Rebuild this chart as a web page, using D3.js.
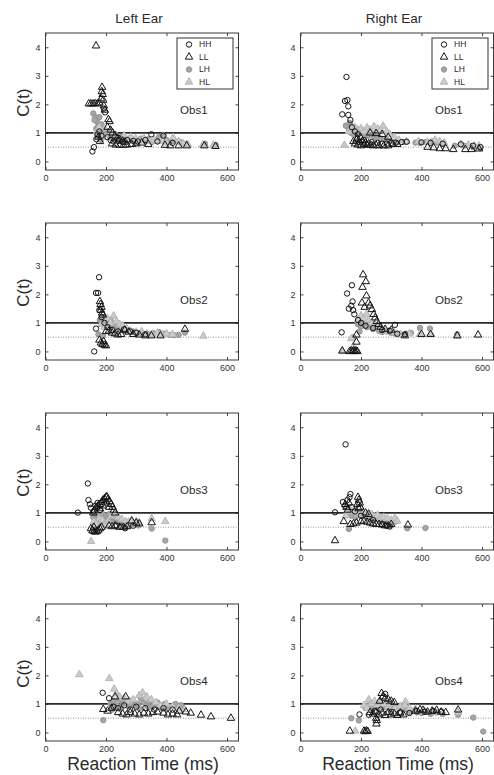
<!DOCTYPE html>
<html>
<head>
<meta charset="utf-8">
<script src="https://cdn.jsdelivr.net/npm/d3@7"></script>
<style>
  body { margin: 0; background: #fff; }
  svg text { font-family: "Liberation Sans", Arial, sans-serif; fill: #2a2a2a; }
  .tick line { stroke: #444; }
  .tick text { font-size: 9px; fill: #333; }
</style>
</head>
<body>
<svg id="chart"></svg>
<script>
// ---- data: [reaction time (ms), C(t)] ----
const X_TICKS = [0, 200, 400, 600];
const Y_TICKS = [0, 1, 2, 3, 4];
const SERIES = ['HH', 'LL', 'LH', 'HL'];
const EARS = ['Left Ear', 'Right Ear'];
const OBS = ['Obs1', 'Obs2', 'Obs3', 'Obs4'];

// Obs1, left ear
const L1_HH = [[155,0.35],[160,0.5],[168,0.78],[172,0.95],[178,1.05],[185,0.9],[197,1.72],[193,1.85],[205,0.85],[215,0.75],[225,0.7],[240,0.72],[255,0.68],[270,0.75],[290,0.72],[305,0.7],[330,0.75],[350,0.95],[370,0.7],[390,0.9],[420,0.65]];
const L1_LL = [[167,4.05],[143,2.02],[150,2.02],[157,2.02],[164,2.03],[171,2.02],[178,2.05],[184,2.2],[186,2.45],[187,2.6],[189,2.35],[191,2.15],[193,1.95],[196,1.8],[208,1.47],[212,1.4],[205,1.2],[215,1.1],[222,1.0],[230,0.9],[238,0.82],[245,0.78],[255,0.72],[262,0.68],[220,0.62],[232,0.58],[245,0.57],[258,0.57],[270,0.58],[285,0.6],[300,0.62],[318,0.65],[340,0.6],[395,0.57],[412,0.55],[440,0.55],[467,0.55],[525,0.55],[562,0.53],[180,0.7],[175,0.85]];
const L1_LH = [[158,1.68],[165,1.55],[170,1.4],[175,1.25],[168,1.15],[180,1.1],[185,1.3],[190,1.0],[198,0.95],[205,1.05],[212,0.9],[220,0.85],[230,0.95],[240,0.8],[250,0.85],[262,0.78],[275,0.8],[288,0.75],[300,0.68],[315,0.8],[328,0.72],[340,0.78],[352,0.68],[375,0.85],[389,0.92],[400,0.75],[420,0.72],[445,0.68],[465,0.62],[527,0.62],[563,0.58],[183,0.75],[172,0.9],[162,1.45],[178,1.55],[173,1.2],[188,1.15],[195,1.1]];
const L1_HL = [[170,1.05],[178,1.2],[186,0.85],[195,1.15],[205,0.95],[215,1.0],[225,0.82],[235,0.9],[248,0.75],[260,0.9],[272,0.72],[282,0.85],[298,0.8],[310,0.72],[325,0.82],[345,0.7],[360,0.75],[380,0.7],[400,0.65],[422,0.84],[440,0.7],[455,0.62],[470,0.6],[520,0.58],[555,0.57]];

// Obs1, right ear
const R1_HH = [[152,2.96],[147,2.12],[155,2.15],[158,1.93],[138,1.65],[158,1.63],[165,1.45],[170,1.2],[180,1.05],[190,0.95],[210,0.75],[235,0.68],[255,0.65],[270,0.62],[285,0.62],[300,0.65],[315,0.66],[335,0.68],[351,0.69],[400,0.67],[430,0.65],[470,0.62],[530,0.6],[570,0.55],[595,0.5]];
const R1_LL = [[175,0.7],[180,0.62],[185,0.75],[190,0.58],[195,0.68],[200,0.55],[205,0.72],[210,0.6],[215,0.65],[220,0.57],[225,0.62],[232,0.58],[240,0.55],[250,0.57],[260,0.55],[275,0.55],[290,0.55],[305,0.6],[320,0.6],[187,0.8],[198,0.85],[230,1.0],[250,0.98],[270,0.95],[290,0.85],[420,0.5],[440,0.48],[460,0.45],[480,0.45],[505,0.42],[545,0.42],[565,0.42],[590,0.44]];
const R1_LH = [[160,1.1],[168,1.0],[175,0.95],[185,1.05],[195,0.98],[205,1.0],[215,0.95],[225,0.9],[235,0.92],[245,0.85],[255,0.88],[265,0.8],[275,0.78],[285,0.75],[300,0.72],[320,0.68],[345,0.68],[380,0.66],[395,0.65],[415,0.68],[435,0.7],[450,0.66],[470,0.62],[510,0.55],[540,0.55],[570,0.5],[593,0.47],[150,1.25],[163,1.35]];
const R1_HL = [[145,0.57],[160,1.05],[170,1.15],[180,1.2],[190,1.1],[200,1.15],[210,1.05],[220,1.18],[230,1.1],[243,1.22],[255,1.15],[265,1.1],[273,1.24],[285,1.05],[295,0.95],[310,0.85],[325,0.75],[350,0.7],[390,0.7],[420,0.68],[445,0.75],[460,0.7],[475,0.65],[530,0.6],[555,0.58],[575,0.55],[590,0.55]];

// Obs2, left ear
const L2_HH = [[177,2.6],[167,2.05],[174,2.05],[167,0.8],[161,0.0],[178,1.45],[185,1.2],[195,1.0],[205,0.85],[220,0.75],[240,0.7],[260,0.78],[280,0.7],[300,0.65],[330,0.6]];
const L2_LL = [[180,1.75],[182,1.65],[185,1.55],[183,1.45],[187,1.35],[190,1.28],[178,0.4],[183,0.3],[188,0.25],[195,0.22],[200,0.2],[192,0.35],[200,0.7],[210,0.72],[220,0.65],[230,0.62],[240,0.58],[250,0.6],[262,0.75],[275,0.68],[290,0.6],[310,0.58],[330,0.55],[350,0.55],[380,0.55],[461,0.78]];
const L2_LH = [[180,1.1],[188,1.0],[195,1.2],[200,1.05],[207,0.95],[215,1.1],[222,0.9],[230,0.95],[240,0.85],[250,0.8],[262,0.72],[275,0.75],[290,0.7],[305,0.65],[320,0.62],[340,0.6],[355,0.65],[375,0.68],[392,0.62],[410,0.58],[425,0.57],[440,0.58],[461,0.66],[175,0.6],[190,0.55]];
const L2_HL = [[185,0.95],[195,0.85],[205,1.15],[215,1.0],[225,1.25],[235,1.05],[245,0.95],[255,0.9],[268,0.8],[280,0.72],[300,0.68],[318,0.7],[335,0.62],[352,0.6],[370,0.65],[385,0.6],[400,0.62],[420,0.6],[522,0.54]];

// Obs2, right ear
const R2_HH = [[170,2.32],[154,2.03],[172,1.75],[160,1.5],[174,1.45],[168,1.6],[178,1.3],[136,0.67],[312,0.93],[190,1.1],[200,1.0],[215,0.9],[240,0.82],[270,0.75],[295,0.72],[320,0.62],[345,0.6]];
const R2_LL = [[207,2.69],[216,2.45],[205,2.25],[218,1.95],[203,1.7],[225,1.7],[236,1.47],[230,1.6],[212,1.55],[242,1.3],[247,1.18],[252,1.05],[258,0.95],[265,0.85],[280,0.78],[300,0.75],[185,0.58],[185,0.33],[138,0.02],[162,0.0],[168,0.02],[172,0.0],[176,0.03],[180,0.0],[184,0.02],[188,0.0],[345,0.55],[518,0.55],[587,0.58],[400,0.6],[430,0.6]];
const R2_LH = [[190,0.95],[200,0.88],[210,1.0],[220,0.85],[230,0.95],[240,0.78],[250,0.85],[260,0.72],[270,0.68],[285,0.7],[300,0.65],[315,0.62],[330,0.6],[350,0.62],[365,0.65],[395,0.82],[428,0.8],[518,0.6],[195,0.7],[175,0.5]];
const R2_HL = [[174,0.17],[140,0.0],[190,1.1],[200,1.25],[208,1.15],[218,1.3],[225,1.1],[235,1.0],[245,0.95],[255,0.9],[265,0.8],[278,0.72],[292,0.7],[310,0.66],[330,0.6],[360,0.62],[395,0.6],[430,0.62],[520,0.55],[168,0.45]];

// Obs3, left ear
const L3_HH = [[140,2.03],[107,1.01],[142,1.45],[147,1.3],[150,1.18],[158,1.05],[165,1.25],[172,1.35],[180,1.1],[263,0.46],[250,0.52],[235,0.55],[290,0.55]];
const L3_LL = [[158,1.0],[162,1.1],[168,1.2],[174,1.25],[180,1.3],[185,1.38],[190,1.45],[195,1.5],[200,1.55],[203,1.57],[207,1.48],[212,1.4],[217,1.3],[222,1.2],[226,1.1],[230,1.0],[190,1.25],[200,1.35],[210,1.2],[180,1.15],[150,0.45],[155,0.38],[160,0.35],[165,0.33],[170,0.35],[175,0.4],[180,0.45],[185,0.5],[160,0.5],[210,0.55],[220,0.52],[230,0.55],[245,0.5],[258,0.5],[270,0.52],[285,0.72],[300,0.65],[310,0.62],[351,0.66]];
const L3_LH = [[158,0.85],[165,0.95],[170,0.75],[175,0.9],[180,0.65],[185,0.85],[190,0.95],[195,0.7],[200,0.9],[205,0.8],[210,0.95],[215,0.75],[220,0.85],[225,0.7],[232,0.8],[238,0.68],[245,0.72],[252,0.62],[260,0.65],[268,0.58],[275,0.55],[290,0.6],[307,0.56],[351,0.45],[396,0.03],[165,0.6]];
const L3_HL = [[151,0.0],[160,0.7],[168,0.6],[178,0.8],[188,0.75],[198,0.6],[208,0.7],[218,0.9],[228,0.95],[240,0.85],[252,0.78],[265,0.7],[275,0.68],[285,0.72],[300,0.7],[310,0.65],[351,0.8],[396,0.7]];

// Obs3, right ear
const R3_HH = [[149,3.4],[165,1.66],[114,1.02],[140,1.38],[147,1.25],[155,1.45],[162,1.55],[170,1.2],[180,1.05],[200,0.9],[240,0.75],[270,0.6],[285,0.55],[295,0.52]];
const R3_LL = [[114,0.03],[143,0.7],[148,1.3],[152,1.2],[156,1.1],[160,1.35],[190,1.55],[193,1.45],[196,1.35],[188,1.3],[198,1.2],[192,1.15],[165,0.6],[175,0.62],[185,0.65],[200,0.7],[210,0.72],[220,0.68],[230,0.65],[240,0.62],[250,0.6],[260,0.6],[270,0.58],[280,0.55],[290,0.55],[300,0.6],[355,0.58],[215,1.0],[225,0.95]];
const R3_LH = [[160,0.44],[353,0.46],[413,0.47],[160,1.0],[168,0.9],[175,1.05],[182,0.85],[190,0.95],[198,1.0],[205,0.88],[212,0.95],[220,0.82],[228,0.9],[238,0.8],[248,0.85],[258,0.75],[268,0.72],[278,0.7],[290,0.66],[300,0.64],[315,0.7]];
const R3_HL = [[150,0.9],[155,1.05],[162,1.15],[170,1.05],[178,1.1],[186,1.0],[195,0.95],[205,1.05],[215,0.92],[225,1.0],[235,0.95],[245,0.88],[255,0.92],[265,0.82],[275,0.85],[288,0.8],[300,0.75],[312,0.82],[320,0.72]];

// Obs4, left ear
const L4_HH = [[189,1.39],[210,1.2],[225,0.9],[240,0.85],[260,0.95],[280,0.8],[300,0.9],[330,0.85],[360,0.8],[390,0.85],[420,0.8]];
const L4_LL = [[191,0.81],[205,0.75],[218,0.85],[230,1.25],[240,0.7],[255,0.65],[268,0.62],[280,0.7],[295,0.65],[310,0.62],[325,0.68],[340,0.65],[355,0.7],[370,0.72],[390,0.68],[405,0.62],[420,0.65],[435,0.62],[442,0.75],[464,0.72],[480,0.68],[514,0.61],[547,0.55],[613,0.5],[265,1.25]];
const L4_LH = [[191,0.43],[215,1.0],[225,1.1],[235,0.95],[245,1.15],[255,1.0],[265,1.05],[275,0.9],[285,1.1],[295,0.95],[305,1.0],[315,1.2],[325,1.05],[335,0.95],[345,1.1],[355,0.92],[365,1.0],[375,0.9],[385,0.85],[395,1.0],[410,0.9],[425,0.95],[440,0.9],[455,0.85],[220,0.8],[250,0.85],[280,1.0],[310,0.85],[340,0.88],[370,1.05],[400,0.82],[430,1.0],[448,0.95]];
const L4_HL = [[112,2.03],[211,1.89],[227,1.52],[235,1.35],[245,1.25],[260,1.2],[275,1.1],[290,1.15],[310,1.3],[321,1.39],[335,1.25],[350,1.15],[365,1.05],[380,0.95],[400,1.0],[420,0.9],[440,0.85],[460,0.8]];

// Obs4, right ear
const R4_HH = [[195,0.63],[226,0.62],[280,1.35],[245,0.75],[265,0.8],[300,0.72],[330,0.7],[360,0.68],[385,0.75],[410,0.72],[440,0.75],[465,0.72]];
const R4_LL = [[163,0.05],[210,0.05],[214,0.03],[218,0.06],[222,0.04],[251,0.3],[252,0.42],[250,0.5],[268,1.37],[272,1.25],[280,1.2],[290,1.15],[300,1.1],[310,1.05],[262,1.1],[230,0.7],[240,0.65],[250,0.72],[260,0.62],[270,0.68],[280,0.6],[290,0.7],[300,0.62],[310,0.66],[320,0.6],[330,0.68],[340,0.62],[380,0.75],[395,0.8],[405,0.78],[420,0.72],[435,0.75],[450,0.78],[465,0.72],[480,0.7],[521,0.79]];
const R4_LH = [[168,0.5],[193,0.42],[571,0.52],[604,0.03],[215,0.85],[225,0.95],[235,0.8],[245,0.9],[255,0.85],[265,0.95],[280,0.88],[295,0.82],[310,0.9],[325,0.85],[340,0.8],[355,0.78],[370,0.75],[385,0.7],[400,0.68],[415,0.72],[430,0.65],[450,0.7],[470,0.65],[521,0.62],[360,0.7]];
const R4_HL = [[181,0.05],[226,1.15],[347,1.08],[521,0.7],[210,0.95],[220,0.85],[235,1.0],[245,1.1],[255,0.95],[262,1.05],[275,0.98],[290,0.9],[300,0.98],[315,0.88],[330,0.92],[345,0.95],[360,0.85],[380,0.82],[410,0.75],[440,0.72],[470,0.7]];

const PANELS = [
  [{HH: L1_HH, LL: L1_LL, LH: L1_LH, HL: L1_HL}, {HH: R1_HH, LL: R1_LL, LH: R1_LH, HL: R1_HL}],
  [{HH: L2_HH, LL: L2_LL, LH: L2_LH, HL: L2_HL}, {HH: R2_HH, LL: R2_LL, LH: R2_LH, HL: R2_HL}],
  [{HH: L3_HH, LL: L3_LL, LH: L3_LH, HL: L3_HL}, {HH: R3_HH, LL: R3_LL, LH: R3_LH, HL: R3_HL}],
  [{HH: L4_HH, LL: L4_LL, LH: L4_LH, HL: L4_HL}, {HH: R4_HH, LL: R4_LL, LH: R4_LH, HL: R4_HL}]
];

// marker look per condition
const STYLE = {
  HH: {shape: 'circle',   fill: 'none',    stroke: '#151515'},
  LL: {shape: 'triangle', fill: 'none',    stroke: '#151515'},
  LH: {shape: 'circle',   fill: '#a6a6a6', stroke: '#949494'},
  HL: {shape: 'triangle', fill: '#cbcbcb', stroke: '#b5b5b5'}
};
// gray ones underneath, dark outlines on top
const DRAW_ORDER = ['LH', 'HL', 'HH', 'LL'];

class ScatterPanel {

    constructor(_config, data) {
        this.config = {
            parent: _config.parent,
            left: _config.left,
            top: _config.top,
            width: _config.width || 193,
            height: _config.height || 137,
            obs: _config.obs,
            showLegend: _config.showLegend,
            showYLabel: _config.showYLabel,
            showXLabel: _config.showXLabel,
            title: _config.title
        };
        this.data = data;
        this.initVis();
    }

    initVis() {
        let vis = this;
        const c = vis.config;

        vis.g = c.parent.append('g')
            .attr('transform', `translate(${c.left}, ${c.top})`);

        vis.xScale = d3.scaleLinear().domain([0, 638]).range([0, c.width]);
        vis.yScale = d3.scaleLinear().domain([-0.3, 4.5]).range([c.height, 0]);

        // matlab style ticks: inside, on all four sides
        vis.g.append('g')
            .attr('transform', `translate(0, ${c.height})`)
            .call(d3.axisBottom(vis.xScale).tickValues(X_TICKS).tickFormat(d3.format('d'))
                .tickSizeInner(-3).tickSizeOuter(0).tickPadding(5))
            .call(g => g.select('.domain').remove());
        vis.g.append('g')
            .call(d3.axisTop(vis.xScale).tickValues(X_TICKS).tickSizeInner(-3).tickSizeOuter(0).tickFormat(''))
            .call(g => g.select('.domain').remove());
        vis.g.append('g')
            .call(d3.axisLeft(vis.yScale).tickValues(Y_TICKS).tickFormat(d3.format('d'))
                .tickSizeInner(-3).tickSizeOuter(0).tickPadding(5))
            .call(g => g.select('.domain').remove());
        vis.g.append('g')
            .attr('transform', `translate(${c.width}, 0)`)
            .call(d3.axisRight(vis.yScale).tickValues(Y_TICKS).tickSizeInner(-3).tickSizeOuter(0).tickFormat(''))
            .call(g => g.select('.domain').remove());

        vis.g.append('rect')
            .attr('width', c.width)
            .attr('height', c.height)
            .attr('fill', 'none')
            .attr('stroke', '#3a3a3a')
            .attr('stroke-width', 1);

        // reference lines at C(t)=1 and 0.5
        vis.g.append('line')
            .attr('x1', 0).attr('x2', c.width)
            .attr('y1', vis.yScale(1)).attr('y2', vis.yScale(1))
            .attr('stroke', '#2a2a2a').attr('stroke-width', 1.6);
        vis.g.append('line')
            .attr('x1', 0).attr('x2', c.width)
            .attr('y1', vis.yScale(0.5)).attr('y2', vis.yScale(0.5))
            .attr('stroke', '#777').attr('stroke-width', 0.8)
            .attr('stroke-dasharray', '1,1.5');

        vis.g.append('text')
            .attr('x', vis.xScale(445))
            .attr('y', vis.yScale(1.65))
            .attr('font-size', 11.5)
            .text(c.obs);

        if (c.title) {
            vis.g.append('text')
                .attr('x', c.width / 2 - 3)
                .attr('y', -10)
                .attr('text-anchor', 'middle')
                .attr('font-size', 13.5)
                .text(c.title);
        }
        if (c.showYLabel) {
            vis.g.append('text')
                .attr('transform', `translate(-17, ${c.height / 2 + 1}) rotate(-90)`)
                .attr('text-anchor', 'middle')
                .attr('font-size', 17)
                .text('C(t)');
        }
        if (c.showXLabel) {
            vis.g.append('text')
                .attr('x', c.width / 2 + 1)
                .attr('y', c.height + 29)
                .attr('text-anchor', 'middle')
                .attr('font-size', 17.5)
                .text('Reaction Time (ms)');
        }
    }

    marker(sel, key) {
        const s = STYLE[key];
        const m = s.shape === 'circle'
            ? sel.append('circle').attr('r', 2.7)
            : sel.append('path').attr('d', d3.symbol(d3.symbolTriangle, 24)());
        m.attr('fill', s.fill)
            .attr('stroke', s.stroke)
            .attr('stroke-width', 1);
    }

    render() {
        let vis = this;
        const c = vis.config;

        DRAW_ORDER.forEach(key => {
            vis.g.append('g')
                .selectAll('g')
                .data(vis.data[key])
                .join('g')
                    .attr('transform', d => `translate(${vis.xScale(d[0])}, ${vis.yScale(d[1])})`)
                    .each(function() { vis.marker(d3.select(this), key); });
        });

        if (c.showLegend) {
            const lg = vis.g.append('g')
                .attr('transform', `translate(${c.width - 61.5}, 5)`);
            lg.append('rect')
                .attr('width', 56).attr('height', 51)
                .attr('fill', '#fff').attr('stroke', '#333').attr('stroke-width', 1);
            const row = lg.selectAll('.entry')
                .data(SERIES)
                .join('g')
                    .attr('class', 'entry')
                    .attr('transform', (d, i) => `translate(12, ${6.5 + i * 12.5})`);
            row.each(function(d) { vis.marker(d3.select(this), d); });
            row.append('text')
                .attr('x', 10)
                .attr('dy', '0.35em')
                .attr('font-size', 8.5)
                .style('fill', '#2a2a2a')
                .text(d => d);
        }
    }
}

const svg = d3.select('#chart').attr('width', 494).attr('height', 775);

const colLeft = [45.5, 300.5];
const rowTop = [33, 223, 413, 604];

PANELS.forEach((rowData, r) => {
    rowData.forEach((panelData, col) => {
        const p = new ScatterPanel({
            parent: svg,
            left: colLeft[col],
            top: rowTop[r],
            obs: OBS[r],
            showLegend: r === 0,
            showYLabel: col === 0,
            showXLabel: r === 3,
            title: r === 0 ? EARS[col] : null
        }, panelData);
        p.render();
    });
});
</script>
</body>
</html>
